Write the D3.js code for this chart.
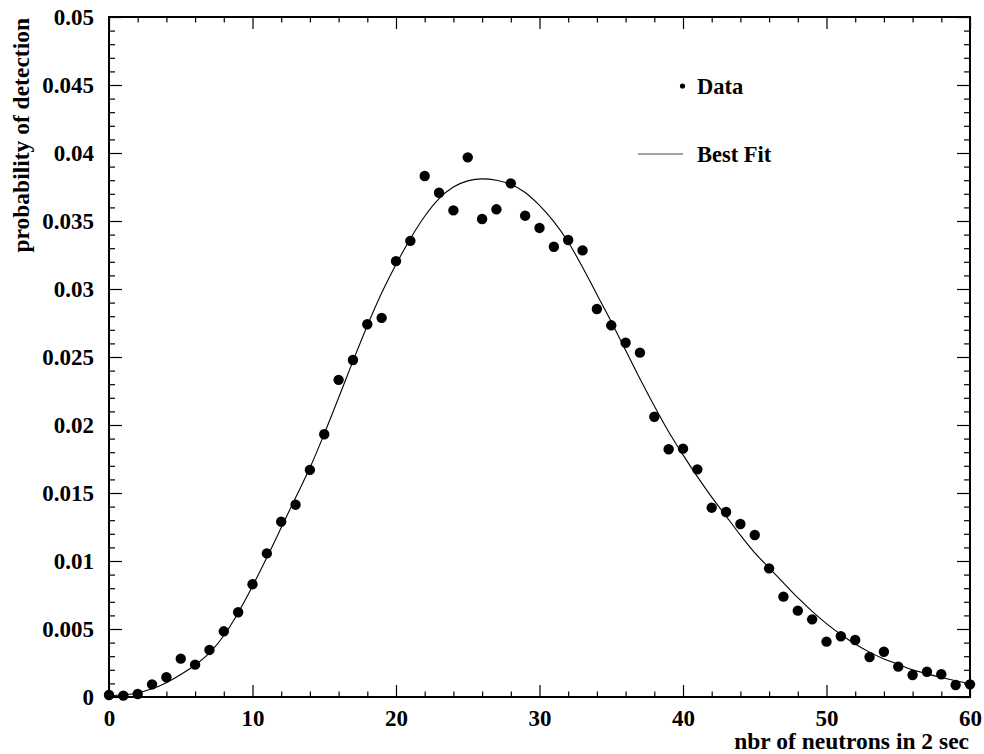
<!DOCTYPE html>
<html>
<head>
<meta charset="utf-8">
<script src="https://cdn.jsdelivr.net/npm/d3@7"></script>
<style>
  html, body { margin: 0; padding: 0; background: #fff; }
  svg text { font-family: "Liberation Serif", "Times New Roman", serif; font-weight: bold; fill: #000; }
</style>
</head>
<body>
<svg id="chart" width="984" height="754"></svg>
<script>
// Measured neutron counts in a 2 s window
const counts = d3.range(0, 61);
const dataProb = [
  0.00015, 0.00010, 0.00022, 0.00093, 0.00145, 0.00282, 0.00238, 0.00346, 0.00483, 0.00623,
  0.00829, 0.01056, 0.01289, 0.01414, 0.01670, 0.01932, 0.02332, 0.02478, 0.02741, 0.02788,
  0.03205, 0.03354, 0.03831, 0.03708, 0.03578, 0.03968, 0.03515, 0.03586, 0.03777, 0.03539,
  0.03449, 0.03311, 0.03360, 0.03284, 0.02853, 0.02733, 0.02605, 0.02532, 0.02061, 0.01822,
  0.01826, 0.01674, 0.01392, 0.01360, 0.01272, 0.01191, 0.00946, 0.00738, 0.00635, 0.00571,
  0.00407, 0.00447, 0.00419, 0.00294, 0.00333, 0.00223, 0.00162, 0.00186, 0.00167, 0.00088,
  0.00093
];
// Best-fit curve sampled at each count
const fitProb = [
  0.00010, 0.00016, 0.00030, 0.00060, 0.00105, 0.00165, 0.00235, 0.00325, 0.00450, 0.00620,
  0.00815, 0.01025, 0.01245, 0.01465, 0.01685, 0.01935, 0.02200, 0.02470, 0.02730, 0.02970,
  0.03180, 0.03370, 0.03535, 0.03665, 0.03750, 0.03795, 0.03810, 0.03800, 0.03770, 0.03710,
  0.03615, 0.03495, 0.03345, 0.03160, 0.02960, 0.02760, 0.02550, 0.02340, 0.02140, 0.01950,
  0.01780, 0.01620, 0.01470, 0.01330, 0.01190, 0.01060, 0.00950, 0.00840, 0.00730, 0.00630,
  0.00540, 0.00460, 0.00390, 0.00330, 0.00280, 0.00240, 0.00200, 0.00170, 0.00144, 0.00120,
  0.00098
];
const xTickValues = [0, 10, 20, 30, 40, 50, 60];
const yTickLabels = ["0", "0.005", "0.01", "0.015", "0.02", "0.025", "0.03", "0.035", "0.04", "0.045", "0.05"];
const xTitle = "nbr of neutrons in 2 sec";
const yTitle = "probability of detection";
const legendLabels = ["Data", "Best Fit"];

const svg = d3.select("#chart");
const m = { left: 109, right: 970, top: 17, bottom: 697 };

const x = d3.scaleLinear().domain([0, 60]).range([m.left, m.right]);
const y = d3.scaleLinear().domain([0, 0.05]).range([m.bottom, m.top]);

const yMajor = yTickLabels.map(Number);
const yMinor = d3.range(0, 51).map(d => d / 1000).filter(v => !yMajor.some(t => Math.abs(t - v) < 1e-9));
const xMinor = d3.range(0, 61, 2).filter(v => v % 10 !== 0);

function styleAxis(g) {
  g.select(".domain").remove();
  g.selectAll(".tick line").attr("stroke", "#000").attr("stroke-width", 1.2);
  g.selectAll(".tick text").attr("font-size", 23).attr("font-family", null);
}

// left axis: major ticks with labels, minor ticks
svg.append("g").attr("transform", `translate(${m.left},0)`)
  .call(d3.axisLeft(y).tickValues(yMajor).tickSize(-13).tickPadding(15)
    .tickFormat((d, i) => yTickLabels[i]))
  .call(styleAxis);
svg.append("g").attr("transform", `translate(${m.left},0)`)
  .call(d3.axisLeft(y).tickValues(yMinor).tickSize(-6).tickFormat(""))
  .call(styleAxis);
// right axis ticks
svg.append("g").attr("transform", `translate(${m.right},0)`)
  .call(d3.axisRight(y).tickValues(yMajor).tickSize(-13).tickFormat(""))
  .call(styleAxis);
svg.append("g").attr("transform", `translate(${m.right},0)`)
  .call(d3.axisRight(y).tickValues(yMinor).tickSize(-6).tickFormat(""))
  .call(styleAxis);
// bottom axis
svg.append("g").attr("transform", `translate(0,${m.bottom})`)
  .call(d3.axisBottom(x).tickValues(xTickValues).tickSize(-12).tickPadding(13).tickFormat(d3.format("d")))
  .call(styleAxis);
svg.append("g").attr("transform", `translate(0,${m.bottom})`)
  .call(d3.axisBottom(x).tickValues(xMinor).tickSize(-5.5).tickFormat(""))
  .call(styleAxis);
// top axis ticks
svg.append("g").attr("transform", `translate(0,${m.top})`)
  .call(d3.axisTop(x).tickValues(xTickValues).tickSize(-12).tickFormat(""))
  .call(styleAxis);
svg.append("g").attr("transform", `translate(0,${m.top})`)
  .call(d3.axisTop(x).tickValues(xMinor).tickSize(-5.5).tickFormat(""))
  .call(styleAxis);

// frame
svg.append("rect")
  .attr("x", m.left).attr("y", m.top)
  .attr("width", m.right - m.left).attr("height", m.bottom - m.top)
  .attr("fill", "none").attr("stroke", "#000").attr("stroke-width", 2);

// fit curve
const line = d3.line().x((d, i) => x(counts[i])).y(d => y(d)).curve(d3.curveMonotoneX);
svg.append("path").datum(fitProb)
  .attr("d", line).attr("fill", "none").attr("stroke", "#000").attr("stroke-width", 1.1);

// data points
svg.append("g").selectAll("circle").data(dataProb).join("circle")
  .attr("cx", (d, i) => x(counts[i])).attr("cy", d => y(d)).attr("r", 5.2).attr("fill", "#000");

// legend
svg.append("circle").attr("cx", 682.5).attr("cy", 86).attr("r", 2.6).attr("fill", "#000");
svg.append("text").attr("x", 697).attr("y", 93.5).attr("font-size", 22.5).text(legendLabels[0]);
svg.append("line").attr("x1", 638).attr("x2", 683).attr("y1", 154).attr("y2", 154)
  .attr("stroke", "#444").attr("stroke-width", 1.1);
svg.append("text").attr("x", 697).attr("y", 161.5).attr("font-size", 22.5).text(legendLabels[1]);

// axis titles
svg.append("text").attr("x", 969).attr("y", 749).attr("text-anchor", "end")
  .attr("font-size", 23.5).text(xTitle);
svg.append("text").attr("transform", "translate(29,18) rotate(-90)")
  .attr("text-anchor", "end").attr("font-size", 23.5).text(yTitle);
</script>
</body>
</html>
